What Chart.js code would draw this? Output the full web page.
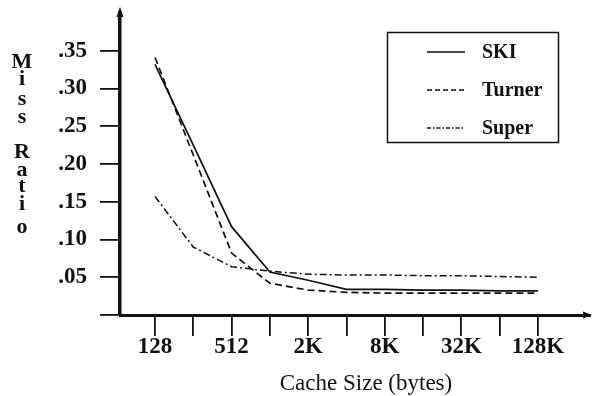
<!DOCTYPE html>
<html>
<head>
<meta charset="utf-8">
<script src="https://cdn.jsdelivr.net/npm/chart.js@4/dist/chart.umd.min.js"></script>
<style>
html,body{margin:0;padding:0;background:#fff;}
#wrap{width:592px;height:396px;position:relative;}
</style>
</head>
<body>
<div id="wrap"><canvas id="c" width="592" height="396"></canvas></div>
<script>
const categories = ['128','256','512','1K','2K','4K','8K','16K','32K','64K','128K'];
const xTickLabels = ['128','','512','','2K','','8K','','32K','','128K'];
const skiValues = [0.332,0.225,0.117,0.057,0.046,0.034,0.034,0.033,0.033,0.032,0.032];
const turnerValues = [0.341,0.212,0.082,0.042,0.033,0.030,0.029,0.029,0.029,0.029,0.029];
const superValues = [0.157,0.090,0.064,0.058,0.054,0.053,0.053,0.052,0.052,0.051,0.050];
const yTickValues = [0,0.05,0.10,0.15,0.20,0.25,0.30,0.35];
const yTickLabels = ['','.05','.10','.15','.20','.25','.30','.35'];
const seriesNames = ['SKI','Turner','Super'];
const yTitle = 'Miss Ratio';
const xTitle = 'Cache Size (bytes)';

const INK = '#111';
const SERIF = '"Liberation Serif", "Times New Roman", serif';
const dashes = [[], [7,4], [7,3,2,3]];

function pts(arr){ return arr.map((v,i)=>({x:i,y:v})); }

const decor = {
  id:'decor',
  afterDraw(chart){
    const ctx = chart.ctx;
    const ca = chart.chartArea;
    ctx.save();
    ctx.fillStyle = INK;
    // arrows
    ctx.beginPath();
    ctx.moveTo(ca.left, ca.top-6);
    ctx.lineTo(ca.left-3.5, ca.top+4);
    ctx.lineTo(ca.left+3.5, ca.top+4);
    ctx.closePath(); ctx.fill();
    ctx.beginPath();
    ctx.moveTo(ca.right+2, ca.bottom);
    ctx.lineTo(ca.right-7, ca.bottom-3.5);
    ctx.lineTo(ca.right-7, ca.bottom+3.5);
    ctx.closePath(); ctx.fill();
    // y title stacked letters
    ctx.font = 'bold 22px ' + SERIF;
    ctx.textAlign = 'center';
    ctx.textBaseline = 'alphabetic';
    const letters = yTitle.replace(' ','').split('');
    const baselines = [68,85,105,123,158,176,192,210,233];
    letters.forEach((ch,i)=>ctx.fillText(ch, 22, baselines[i]));
    // x title
    ctx.font = '23px ' + SERIF;
    ctx.fillText(xTitle, 366, 390);
    // legend
    ctx.strokeStyle = INK;
    ctx.lineWidth = 1.5;
    ctx.strokeRect(387.5, 32.5, 171, 110);
    const rows = [52, 90, 128];
    chart.data.datasets.forEach((ds,i)=>{
      ctx.beginPath();
      ctx.setLineDash(i===2 ? [4,2,1.5,2] : (i===1 ? [5,3] : []));
      ctx.lineWidth = 1.5;
      ctx.moveTo(427, rows[i]);
      ctx.lineTo(465, rows[i]);
      ctx.stroke();
      ctx.setLineDash([]);
      ctx.font = 'bold 20px ' + SERIF;
      ctx.textAlign = 'left';
      ctx.textBaseline = 'middle';
      ctx.fillText(ds.label, 482, rows[i]+1);
    });
    ctx.restore();
  }
};

new Chart(document.getElementById('c'), {
  type:'line',
  data:{
    datasets:[
      {label:seriesNames[0], data:pts(skiValues), borderColor:INK, borderWidth:1.7, borderDash:dashes[0], pointRadius:0, tension:0, fill:false},
      {label:seriesNames[1], data:pts(turnerValues), borderColor:INK, borderWidth:1.7, borderDash:dashes[1], pointRadius:0, tension:0, fill:false},
      {label:seriesNames[2], data:pts(superValues), borderColor:INK, borderWidth:1.5, borderDash:dashes[2], pointRadius:0, tension:0, fill:false}
    ]
  },
  options:{
    responsive:false,
    animation:false,
    devicePixelRatio:1,
    layout:{padding:{top:13, right:2, left:0, bottom:0}},
    plugins:{legend:{display:false}, tooltip:{enabled:false}, title:{display:false}},
    scales:{
      x:{
        type:'linear',
        min:-0.914, max:11.36,
        afterBuildTicks(s){ s.ticks = categories.map((c,i)=>({value:i})); },
        afterFit(s){ s.height = 81; s.paddingLeft = 0; s.paddingRight = 0; },
        grid:{drawOnChartArea:false, drawTicks:true, tickLength:21, color:INK, lineWidth:1.8},
        border:{display:true, color:INK, width:3},
        ticks:{autoSkip:false, maxRotation:0, padding:-3, color:INK,
          font:{family:SERIF, size:23, weight:'bold'},
          callback:(v,i)=>xTickLabels[i]}
      },
      y:{
        type:'linear',
        min:0, max:0.40,
        afterBuildTicks(s){ s.ticks = yTickValues.map(v=>({value:v})); },
        afterFit(s){ s.width = 120; s.paddingTop = 0; s.paddingBottom = 0; },
        grid:{drawOnChartArea:false, drawTicks:true, tickLength:20, color:INK, lineWidth:1.8},
        border:{display:true, color:INK, width:3.5},
        ticks:{autoSkip:false, padding:13, color:INK,
          font:{family:SERIF, size:23, weight:'bold'},
          callback:(v,i)=>yTickLabels[i]}
      }
    }
  },
  plugins:[decor]
});
</script>
</body>
</html>
